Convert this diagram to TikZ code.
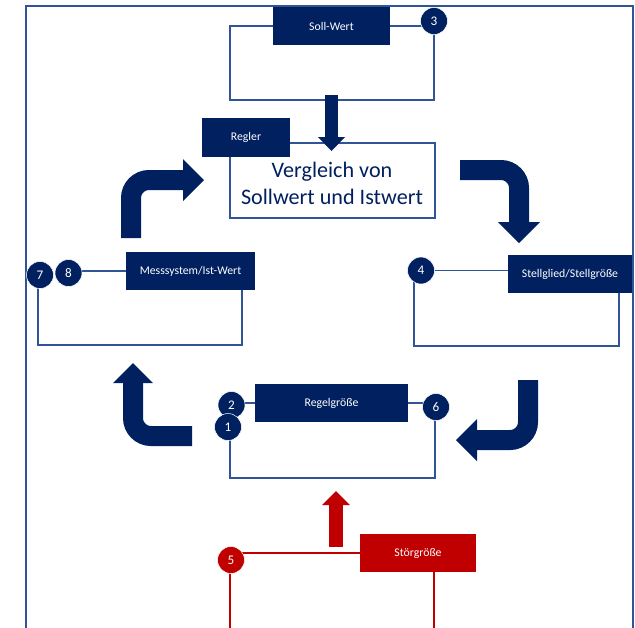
\documentclass[tikz,border=0pt]{standalone}
\usepackage{fontspec}
\setmainfont{Carlito}

\definecolor{navy}{HTML}{002060}
\definecolor{linie}{HTML}{2F5597}
\definecolor{rot}{HTML}{C00000}

\tikzset{
	kasten/.style={fill=navy, text=white, inner sep=0pt, font=\fontsize{6.7}{8}\selectfont},
	nummer/.style={circle, fill=navy, draw=white, line width=0.3pt, text=white, minimum size=0.54cm, inner sep=0pt, font=\fontsize{7.5}{9}\selectfont},
	draht/.style={draw=linie, line width=0.8pt},
	pfeil/.style={draw=navy, line width=0.4cm, rounded corners=0.36cm},
}

\begin{document}
\begin{tikzpicture}[x=0.02cm,y=-0.02cm]
	\useasboundingbox (0,0) rectangle (635,627);

	% Rahmen
	\draw[linie,line width=1.4pt] (26,640) |- (633,6) -- (633,640);

	% Ecken der Schleifen
	\coordinate (sollbl) at (230,100);
	\coordinate (messbr) at (242,345);
	\coordinate (stellbr) at (619,346);
	\coordinate (regelbr) at (435,478);
	\coordinate (stoerbl) at (230,640);
	\coordinate (stoerbr) at (434,640);

	% Kaesten
	\node[kasten,minimum width=2.34cm,minimum height=0.76cm] (soll) at (331.5,26) {Soll-Wert};
	\node[draw=linie,fill=white,line width=0.8pt,minimum width=4.1cm,minimum height=1.5cm] (vergleich) at (332.5,180.5) {};
	\node[text=navy,align=center,font=\fontsize{12.6}{15.3}\selectfont] (vtext) at (332,183) {Vergleich von\\Sollwert und Istwert};
	\node[kasten,minimum width=1.76cm,minimum height=0.78cm] (regler) at (246,137.5) {Regler};
	\node[kasten,minimum width=2.58cm,minimum height=0.76cm] (mess) at (190.5,271) {Messsystem/Ist-Wert};
	\node[kasten,minimum width=2.48cm,minimum height=0.76cm] (stell) at (570,274) {Stellglied/Stellgröße};
	\node[kasten,minimum width=3.06cm,minimum height=0.76cm] (regel) at (331.5,403) {Regelgröße};
	\node[kasten,fill=rot,minimum width=2.32cm,minimum height=0.76cm] (stoer) at (418,553) {Störgröße};

	% Nummern
	\coordinate (p3) at (434,21);
	\coordinate (p7) at (40,275);
	\coordinate (p8) at (68.5,273);
	\coordinate (p4) at (421,270.5);
	\coordinate (p2) at (231.5,405);
	\coordinate (p1) at (228,427);
	\coordinate (p6) at (436,407);
	\coordinate (p5) at (231,560);

	% Leitungen
	\draw[draht] (soll.west) -| (sollbl) -| (p3);
	\draw[draht] (soll.east) -- (soll.east -| p3);
	\draw[draht] (mess.west) -- (mess.west -| p8);
	\draw[draht] (p7) ++(-2,0) |- (messbr) -- (messbr |- mess.south);
	\draw[draht] (p4) -- (stell.west |- p4);
	\draw[draht] (p4) ++(-7,0) |- (stellbr) -- (stellbr |- stell.south);
	\draw[draht] (p2) ++(0,-2) -- (regel.west |- 0,403);
	\draw[draht] (regel.east |- 0,403) -- (436,403);
	\draw[draht] (p1) ++(2,0) |- (regelbr) -- (regelbr |- p6);
	\draw[rot,line width=0.8pt] (stoer.west) -- (stoer.west -| p5);
	\draw[rot,line width=0.8pt] (p5) ++(-1,0) -- (stoerbl);
	\draw[rot,line width=0.8pt] (stoer.south -| stoerbr) -- (stoerbr);

	\node[nummer] (c3) at (p3) {3};
	\node[nummer] (c7) at (p7) {7};
	\node[nummer] (c8) at (p8) {8};
	\node[nummer] (c4) at (p4) {4};
	\node[nummer] (c2) at (p2) {2};
	\node[nummer] (c1) at (p1) {1};
	\node[nummer] (c6) at (p6) {6};
	\node[nummer,fill=rot] (c5) at (p5) {5};

	% Pfeile
	\draw[navy,line width=0.26cm] (331.5,95) -- (331.5,138);
	\fill[navy] (318,137) -- (345,137) -- (331.5,151) -- cycle;
	\draw[pfeil] (131,238) -- (131,180) -- (184,180);
	\fill[navy] (183,159) -- (204,180) -- (183,201) -- cycle;
	\draw[pfeil] (460,170) -- (519,170) -- (519,223);
	\fill[navy] (498,222) -- (540,222) -- (519,243) -- cycle;
	\draw[pfeil] (192,436) -- (133,436) -- (133,382);
	\fill[navy] (113,383) -- (153,383) -- (133,363) -- cycle;
	\draw[pfeil] (528,380) -- (528,440) -- (476,440);
	\fill[navy] (477,419) -- (477,461) -- (456,440) -- cycle;
	\draw[rot,line width=0.28cm] (336,547) -- (336,504);
	\fill[rot] (322,505) -- (350,505) -- (336,491) -- cycle;
\end{tikzpicture}
\end{document}
